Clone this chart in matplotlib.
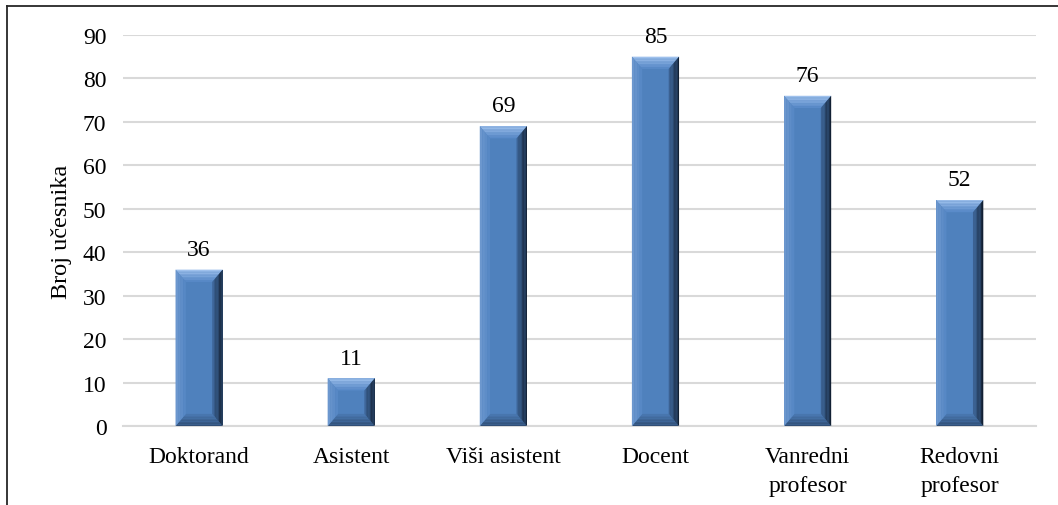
import numpy as np
import matplotlib.pyplot as plt
from matplotlib.patches import Polygon
from matplotlib.lines import Line2D
from matplotlib.colors import to_rgb

categories = ["Doktorand", "Asistent", "Viši asistent", "Docent",
              "Vanredni\nprofesor", "Redovni\nprofesor"]
counts = [36, 11, 69, 85, 76, 52]
y_ticks = list(range(0, 100, 10))

plt.rcParams["font.family"] = ["Liberation Serif", "DejaVu Serif"]
FS = 17

fig = plt.figure(figsize=(10.58, 5.06), dpi=100)
ax = fig.add_axes([0.1163, 0.156, 0.8627, 0.773])

x = np.arange(len(categories))
width = 0.31
body = "#4F81BD"
bars = ax.bar(x, counts, width=width, color=body, zorder=2)


def mix(c1, c2, t):
    a, b = np.array(to_rgb(c1)), np.array(to_rgb(c2))
    return tuple(a + (b - a) * t)


def bevel_side(ax, outer, inner, c_out, c_in, n=8):
    # outer/inner: two point pairs of a trapezoid edge, shaded in n bands
    (o1, o2), (i1, i2) = outer, inner
    o1, o2, i1, i2 = map(np.array, (o1, o2, i1, i2))
    for k in range(n):
        t0, t1 = k / n, (k + 1) / n
        p1 = o1 + (i1 - o1) * t0
        p2 = o2 + (i2 - o2) * t0
        p3 = o2 + (i2 - o2) * t1
        p4 = o1 + (i1 - o1) * t1
        ax.add_patch(Polygon([p1, p2, p3, p4], closed=True, lw=0,
                             color=mix(c_out, c_in, (t0 + t1) / 2), zorder=3))


# bevel edges on every bar
bx = 0.068   # side bevel width in data units
by = 2.8     # top/bottom bevel height in data units
for rect in bars:
    x0 = rect.get_x()
    x1 = x0 + rect.get_width()
    h = rect.get_height()
    b = min(by, h / 2.5)
    bl, br = (x0, 0), (x1, 0)
    tl, tr = (x0, h), (x1, h)
    ibl, ibr = (x0 + bx, b), (x1 - bx, b)
    itl, itr = (x0 + bx, h - b), (x1 - bx, h - b)
    bevel_side(ax, (tl, tr), (itl, itr), "#A3C4EE", "#5587C6")
    bevel_side(ax, (bl, br), (ibl, ibr), "#2E4B72", "#4A79B2")
    bevel_side(ax, (bl, tl), (ibl, itl), "#6F9AD0", "#5385C3", n=4)
    bevel_side(ax, (br, tr), (ibr, itr), "#0F1B2C", "#3E6699")
    ax.annotate(str(int(h)), (rect.get_x() + rect.get_width() / 2, h),
                xytext=(0, 7), textcoords="offset points",
                ha="center", va="bottom", fontsize=FS, color="#000000")

ax.set_xlim(-0.5, len(categories) - 0.5)
ax.set_ylim(0, 90)
ax.set_yticks(y_ticks)
ax.set_xticks(x)
ax.set_xticklabels(categories, fontsize=FS, linespacing=1.55)
ax.tick_params(axis="y", length=0, pad=12, labelsize=FS)
ax.tick_params(axis="x", length=0, pad=14)
ax.yaxis.grid(True, color="#D9D9D9", lw=1.5, zorder=0)
ax.set_axisbelow(True)
for s in ["top", "right", "left"]:
    ax.spines[s].set_visible(False)
ax.spines["bottom"].set_color("#D9D9D9")
ax.spines["bottom"].set_linewidth(1.5)
ax.set_ylabel("Broj učesnika", fontsize=FS + 0.5, labelpad=8)

# frame along the left and top edges of the figure
fx = 6.5 / 1058
fy = 1 - 6.5 / 506
fig.add_artist(Line2D([fx, fx], [0, fy], transform=fig.transFigure,
                      color="#262626", lw=1.3))
fig.add_artist(Line2D([fx, 1], [fy, fy], transform=fig.transFigure,
                      color="#262626", lw=1.3))

fig.savefig("out.png", dpi=100)
